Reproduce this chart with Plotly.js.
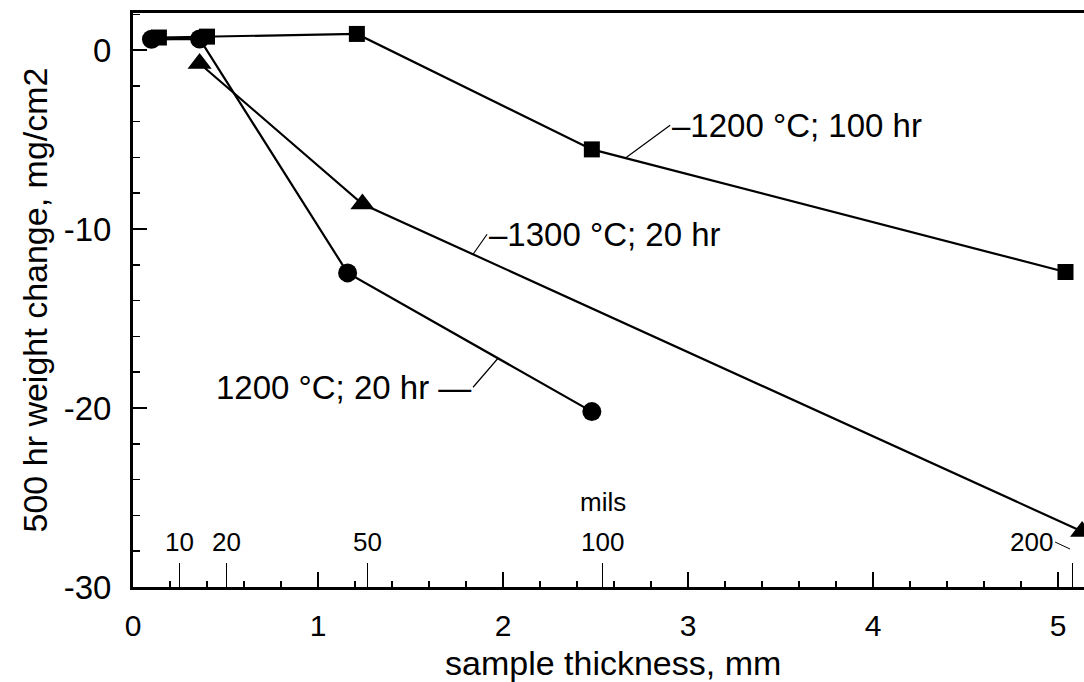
<!DOCTYPE html>
<html>
<head>
<meta charset="utf-8">
<script src="https://cdn.plot.ly/plotly-3.0.1.min.js"></script>
<style>html,body{margin:0;padding:0;background:#fff;}#chart{width:1084px;height:682px;}</style>
</head>
<body>
<div id="chart"></div>
<script>
// Series: 500 hr weight change (mg/cm2) vs sample thickness (mm)
const seriesNames = ['1200 °C; 100 hr', '1200 °C; 20 hr', '1300 °C; 20 hr'];
const sq_x = [0.14, 0.40, 1.21, 2.48, 5.04];
const sq_y = [0.70, 0.75, 0.90, -5.55, -12.40];
const ci_x = [0.10, 0.36, 1.16, 2.48];
const ci_y = [0.60, 0.62, -12.45, -20.20];
const tr_x = [0.36, 1.24, 5.13];
const tr_y = [-0.75, -8.60, -26.90];
// axis tick labels and titles
const xTitle = 'sample thickness, mm';
const yTitle = '500 hr weight change, mg/cm2';
const xTickVals = [0, 1, 2, 3, 4, 5];
const xTickText = ['0', '1', '2', '3', '4', '5'];
const yTickVals = [0, -10, -20, -30];
const yTickText = ['0', '-10', '-20', '-30'];
// secondary scale: mils
const milsLabels = ['10', '20', '50', '100', '200'];
const milsValues = [10, 20, 50, 100, 200];
const milsToMm = milsValues.map(v => v * 0.0254);

const FONT = 'Liberation Sans, Arial, Helvetica, sans-serif';

const lineStyle = {color: '#000', width: 2.2};
const traces = [
  {x: sq_x, y: sq_y, name: seriesNames[0], mode: 'lines+markers', line: lineStyle,
   marker: {symbol: 'square', size: 16, color: '#000'}, cliponaxis: true},
  {x: ci_x, y: ci_y, name: seriesNames[1], mode: 'lines+markers', line: lineStyle,
   marker: {symbol: 'circle', size: 19, color: '#000'}, cliponaxis: true},
  {x: tr_x, y: tr_y, name: seriesNames[2], mode: 'lines+markers', line: lineStyle,
   marker: {symbol: 'triangle-up', size: 21, color: '#000'}, cliponaxis: true},
  // invisible traces that activate the mils axis and the mm label axis
  {x: milsToMm, y: milsToMm.map(() => -30), xaxis: 'x2', mode: 'markers',
   marker: {opacity: 0, size: 1}, hoverinfo: 'skip', showlegend: false},
  {x: xTickVals, y: xTickVals.map(() => -30), xaxis: 'x3', mode: 'markers',
   marker: {opacity: 0, size: 1}, hoverinfo: 'skip', showlegend: false}
];

const xRange = [0, 5.14];
const annFont = {family: FONT, size: 33, color: '#000'};
const milsFont = {family: FONT, size: 26, color: '#000'};

const annotations = [
  {x: 2.66, y: -6.04, xref: 'x', yref: 'y', text: '–' + seriesNames[0],
   showarrow: true, arrowhead: 0, arrowwidth: 1.2, arrowcolor: '#000',
   ax: 45, ay: -33, xanchor: 'left', yanchor: 'middle', font: annFont, standoff: 0},
  {x: 1.838, y: -11.41, xref: 'x', yref: 'y', text: '–' + seriesNames[2],
   showarrow: true, arrowhead: 0, arrowwidth: 1.2, arrowcolor: '#000',
   ax: 14, ay: -20, xanchor: 'left', yanchor: 'middle', font: annFont, standoff: 0},
  {x: 1.973, y: -17.22, xref: 'x', yref: 'y', text: seriesNames[1] + ' —',
   showarrow: true, arrowhead: 0, arrowwidth: 1.2, arrowcolor: '#000',
   ax: -25, ay: 29, xanchor: 'right', yanchor: 'middle', font: annFont, standoff: 0},
  {x: milsToMm[3], y: -25.25, xref: 'x', yref: 'y', text: 'mils', showarrow: false,
   font: milsFont, yanchor: 'middle'},
  // x-axis title placed explicitly beneath the tick labels
  {x: 0.505, y: -0.168, xref: 'paper', yref: 'paper', text: xTitle, showarrow: false,
   xanchor: 'center', yanchor: 'bottom', borderpad: 0,
   font: {family: FONT, size: 34, color: '#000'}}
];
milsLabels.forEach((lab, i) => {
  if (i < 4) {
    annotations.push({x: milsToMm[i], y: -27.49, xref: 'x', yref: 'y', text: lab,
      showarrow: false, font: milsFont, yanchor: 'middle'});
  } else {
    annotations.push({x: milsToMm[i] - 0.015, y: -27.88, xref: 'x', yref: 'y', text: lab,
      showarrow: true, arrowhead: 0, arrowwidth: 1, arrowcolor: '#000',
      ax: -15, ay: -7, xanchor: 'right', yanchor: 'middle', font: milsFont, standoff: 0});
  }
});

const layout = {
  width: 1084, height: 682,
  margin: {l: 133, r: 0, t: 13, b: 95, pad: 0},
  paper_bgcolor: '#fff', plot_bgcolor: '#fff',
  showlegend: false,
  font: {family: FONT, color: '#000'},
  xaxis: {
    range: xRange, tickmode: 'array', tickvals: xTickVals, ticktext: xTickText,
    ticks: 'inside', ticklen: 15, tickwidth: 2, tickcolor: '#000',
    showline: true, linewidth: 3, linecolor: '#000', mirror: true,
    showgrid: false, zeroline: false, showticklabels: false,
    minor: {dtick: 0.2, tick0: 0, ticks: 'inside', ticklen: 6, tickwidth: 1.5, tickcolor: '#000', showgrid: false}
  },
  xaxis2: {
    overlaying: 'x', anchor: 'y', side: 'bottom', range: xRange,
    tickmode: 'array', tickvals: milsToMm, ticktext: milsLabels,
    showticklabels: false, ticks: 'inside', ticklen: 24, tickwidth: 1, tickcolor: '#000',
    showline: false, showgrid: false, zeroline: false
  },
  // carries the mm tick labels, pushed down by an invisible outside tick
  xaxis3: {
    overlaying: 'x', anchor: 'y', side: 'bottom', range: xRange,
    tickmode: 'array', tickvals: xTickVals, ticktext: xTickText,
    ticks: 'outside', ticklen: 12, tickwidth: 1, tickcolor: 'rgba(0,0,0,0)',
    tickfont: {family: FONT, size: 30, color: '#000'},
    showline: false, showgrid: false, zeroline: false
  },
  yaxis: {
    range: [-30, 2.07], tickmode: 'array', tickvals: yTickVals, ticktext: yTickText,
    ticks: 'inside', ticklen: 14, tickwidth: 2, tickcolor: '#000',
    showline: true, linewidth: 3, linecolor: '#000', mirror: false,
    showgrid: false, zeroline: false,
    tickfont: {family: FONT, size: 33, color: '#000'},
    ticklabelstandoff: 12,
    minor: {dtick: 2, tick0: 0, ticks: 'inside', ticklen: 7, tickwidth: 1.5, tickcolor: '#000', showgrid: false},
    title: {text: yTitle, font: {family: FONT, size: 34, color: '#000'}, standoff: 6}
  },
  annotations: annotations
};

Plotly.newPlot('chart', traces, layout, {staticPlot: true, displayModeBar: false});
</script>
</body>
</html>
